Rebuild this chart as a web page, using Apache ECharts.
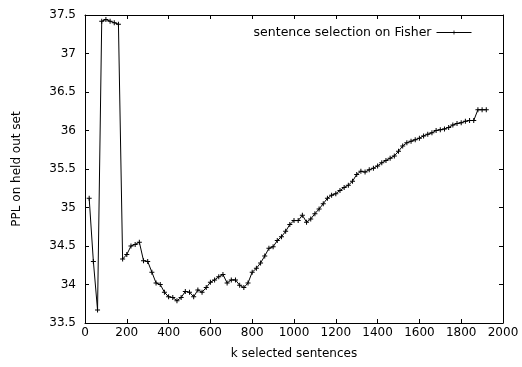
<!DOCTYPE html>
<html>
<head>
<meta charset="utf-8">
<script src="https://cdn.jsdelivr.net/npm/echarts@6/dist/echarts.min.js"></script>
<style>
  html, body { margin: 0; padding: 0; background: #fff; }
  #chart { width: 522px; height: 367px; }
</style>
</head>
<body>
<div id="chart"></div>
<script>
// k selected sentences (step 20)
const kValues = [
  20, 40, 60, 80, 100, 120, 140, 160, 180, 200,
  220, 240, 260, 280, 300, 320, 340, 360, 380, 400,
  420, 440, 460, 480, 500, 520, 540, 560, 580, 600,
  620, 640, 660, 680, 700, 720, 740, 760, 780, 800,
  820, 840, 860, 880, 900, 920, 940, 960, 980, 1000,
  1020, 1040, 1060, 1080, 1100, 1120, 1140, 1160, 1180, 1200,
  1220, 1240, 1260, 1280, 1300, 1320, 1340, 1360, 1380, 1400,
  1420, 1440, 1460, 1480, 1500, 1520, 1540, 1560, 1580, 1600,
  1620, 1640, 1660, 1680, 1700, 1720, 1740, 1760, 1780, 1800,
  1820, 1840, 1860, 1880, 1900, 1920
];
// PPL on held out set
const pplValues = [
  35.12, 34.30, 33.67, 37.42, 37.44, 37.42, 37.40, 37.38, 34.33, 34.39,
  34.50, 34.52, 34.55, 34.31, 34.30, 34.16, 34.02, 34.00, 33.90, 33.84,
  33.83, 33.79, 33.83, 33.91, 33.90, 33.84, 33.93, 33.90, 33.96, 34.03,
  34.06, 34.10, 34.13, 34.02, 34.06, 34.06, 33.99, 33.96, 34.02, 34.16,
  34.21, 34.28, 34.37, 34.47, 34.49, 34.57, 34.62, 34.69, 34.78, 34.83,
  34.83, 34.90, 34.81, 34.85, 34.92, 34.98, 35.05, 35.12, 35.16, 35.18,
  35.22, 35.26, 35.29, 35.34, 35.43, 35.47, 35.46, 35.49, 35.51, 35.54,
  35.58, 35.61, 35.64, 35.67, 35.73, 35.80, 35.84, 35.86, 35.88, 35.90,
  35.93, 35.95, 35.97, 36.00, 36.01, 36.02, 36.04, 36.07, 36.09, 36.10,
  36.12, 36.13, 36.13, 36.27, 36.27, 36.27
];
const seriesName = 'sentence selection on Fisher';

const FONT = 'DejaVu Sans';
const plus = 'path://M0,2L2,2L2,0L3,0L3,2L5,2L5,3L3,3L3,5L2,5L2,3L0,3Z';

const chart = echarts.init(document.getElementById('chart'), null, { renderer: 'canvas' });

const baseX = {
  type: 'value', min: 0, max: 2000, interval: 200,
  axisLine: { show: true, onZero: false, lineStyle: { color: '#000', width: 1 } },
  axisTick: { show: true, inside: true, length: 4, lineStyle: { color: '#000' } },
  splitLine: { show: false },
};
const baseY = {
  type: 'value', min: 33.5, max: 37.5, interval: 0.5,
  axisLine: { show: true, onZero: false, lineStyle: { color: '#000', width: 1 } },
  axisTick: { show: true, inside: true, length: 4, lineStyle: { color: '#000' } },
  splitLine: { show: false },
};

chart.setOption({
  animation: false,
  backgroundColor: '#fff',
  grid: { left: 85, right: 19, top: 15, bottom: 44, containLabel: false },
  legend: {
    right: 45, top: 21,
    align: 'right',
    itemWidth: 35, itemHeight: 5, itemGap: 5,
    lineStyle: { width: 1 },
    textStyle: { fontFamily: FONT, fontSize: 12.5, color: '#000' },
    data: [seriesName],
  },
  xAxis: [
    Object.assign({}, baseX, {
      position: 'bottom',
      name: 'k selected sentences', nameLocation: 'middle', nameGap: 25,
      nameTextStyle: { fontFamily: FONT, fontSize: 12, color: '#000' },
      axisLabel: { margin: 4, fontFamily: FONT, fontSize: 12, color: '#000', formatter: v => String(v) },
    }),
    Object.assign({}, baseX, { position: 'top', axisLabel: { show: false } }),
  ],
  yAxis: [
    Object.assign({}, baseY, {
      position: 'left',
      name: 'PPL on held out set', nameLocation: 'middle', nameGap: 62,
      nameTextStyle: { fontFamily: FONT, fontSize: 12, color: '#000' },
      axisLabel: { margin: 9, fontFamily: FONT, fontSize: 12, color: '#000' },
    }),
    Object.assign({}, baseY, { position: 'right', axisLabel: { show: false } }),
  ],
  series: [{
    name: seriesName,
    type: 'line',
    data: kValues.map((k, i) => [k, pplValues[i]]),
    symbol: plus,
    symbolSize: 5,
    showAllSymbol: true,
    itemStyle: { color: '#000' },
    lineStyle: { color: '#000', width: 1 },
  }],
});
</script>
</body>
</html>
